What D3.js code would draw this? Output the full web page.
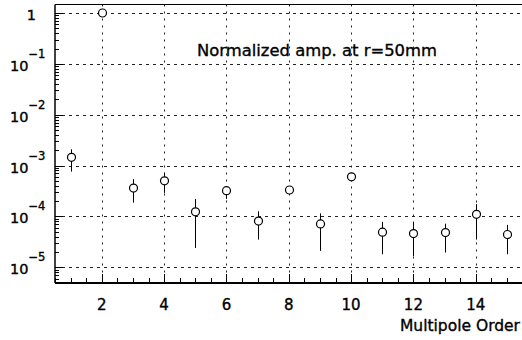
<!DOCTYPE html>
<html><head><meta charset="utf-8">
<script src="https://cdn.jsdelivr.net/npm/d3@7"></script>
<style>
html,body{margin:0;padding:0;background:#fff;}
svg{display:block;}
text{font-family:"DejaVu Sans",Verdana,sans-serif;fill:#000;stroke:#000;stroke-width:0.35px;}
</style></head>
<body><svg id="c" width="522" height="340"></svg>
<script>
const orders   = [1,2,3,4,5,6,7,8,9,10,11,12,13,14,15];
const amps     = [1.45e-3,1.0,3.6e-4,5.0e-4,1.23e-4,3.2e-4,8.1e-5,3.3e-4,7.1e-5,6.0e-4,4.9e-5,4.6e-5,4.8e-5,1.1e-4,4.4e-5];
const ampHigh  = [2.09e-3,1.0,5.4e-4,7.2e-4,2.2e-4,3.6e-4,1.26e-4,3.6e-4,1.15e-4,6.6e-4,7.8e-5,7.6e-5,7.2e-5,1.74e-4,6.8e-5];
const ampLow   = [7.6e-4,1.0,1.86e-4,2.9e-4,2.4e-5,2.2e-4,3.5e-5,3.0e-4,2.1e-5,5.5e-4,1.8e-5,1.66e-5,1.95e-5,3.5e-5,1.8e-5];
const xTicks   = [2,4,6,8,10,12,14];
const yDecades = [0,-1,-2,-3,-4,-5];
const titleText = "Normalized amp. at r=50mm";
const xTitle   = "Multipole Order";

const svg = d3.select("#c");
const L=55, R=522.5, T=4.5, B=283;
const x = d3.scaleLinear().domain([0.5,15.5]).range([L,R]);
const y = d3.scaleLog().domain([Math.pow(10,-5.31),Math.pow(10,0.167)]).range([B,T]);

// grid
const g = svg.append("g");
g.selectAll("line.hg").data(yDecades).enter().append("line")
  .attr("x1",L).attr("x2",R).attr("y1",d=>Math.round(y(Math.pow(10,d)))+0.5).attr("y2",d=>Math.round(y(Math.pow(10,d)))+0.5)
  .attr("stroke","#222").attr("stroke-width",1).attr("stroke-dasharray","3,4");
g.selectAll("line.vg").data(xTicks).enter().append("line")
  .attr("x1",d=>Math.round(x(d))+0.5).attr("x2",d=>Math.round(x(d))+0.5).attr("y1",T).attr("y2",B)
  .attr("stroke","#222").attr("stroke-width",1).attr("stroke-dasharray","2,5");

// frame
svg.append("line").attr("x1",L).attr("x2",R).attr("y1",T).attr("y2",T).attr("stroke","#000").attr("stroke-width",1);
svg.append("line").attr("x1",L).attr("x2",L).attr("y1",T).attr("y2",B).attr("stroke","#000").attr("stroke-width",1.5);
svg.append("line").attr("x1",L).attr("x2",R).attr("y1",B).attr("y2",B).attr("stroke","#000").attr("stroke-width",2);

// y ticks
const yMinor=[];
for (let e=-6;e<=0;e++) for (let m=1;m<=9;m++){const v=m*Math.pow(10,e); if(v>=y.domain()[0]&&v<=y.domain()[1]) yMinor.push({v,major:m===1});}
svg.selectAll("line.yt").data(yMinor).enter().append("line")
  .attr("x1",L).attr("x2",d=>L+(d.major?8:4))
  .attr("y1",d=>Math.round(y(d.v))+0.5).attr("y2",d=>Math.round(y(d.v))+0.5)
  .attr("stroke","#000").attr("stroke-width",1);

// x ticks
const xMinor=d3.range(0.5,15.51,0.5);
svg.selectAll("line.xt").data(xMinor).enter().append("line")
  .attr("x1",d=>Math.round(x(d))+0.5).attr("x2",d=>Math.round(x(d))+0.5)
  .attr("y1",B).attr("y2",d=>B-((d%2===0)?9:5))
  .attr("stroke","#000").attr("stroke-width",1);

// x labels
svg.selectAll("text.xl").data(xTicks).enter().append("text")
  .attr("x",d=>x(d)).attr("y",310).attr("text-anchor","middle")
  .attr("font-size",15).text(d=>d);
svg.append("text").attr("x",520).attr("y",331).attr("text-anchor","end").attr("font-size",15.5).text(xTitle);

// y labels
yDecades.forEach(d=>{
  const yy=y(Math.pow(10,d));
  if(d===0){
    svg.append("text").attr("x",36).attr("y",yy+7).attr("text-anchor","end").attr("font-size",14.5).text("1");
  } else {
    const t=svg.append("text").attr("x",10).attr("y",yy+7).attr("font-size",14.5);
    t.append("tspan").text("10");
    t.append("tspan").attr("dy",-13).attr("font-size",11.5).text("\u2212"+(-d));
  }
});

// title
svg.append("text").attr("x",197).attr("y",56).attr("font-size",16.4).text(titleText);

// error bars + markers
const pts=orders.map((o,i)=>({o,v:amps[i],hi:ampHigh[i],lo:ampLow[i]}));
svg.selectAll("line.eb").data(pts).enter().append("line")
  .attr("x1",d=>Math.round(x(d.o))+0.5).attr("x2",d=>Math.round(x(d.o))+0.5)
  .attr("y1",d=>y(d.hi)).attr("y2",d=>y(d.lo))
  .attr("stroke","#000").attr("stroke-width",1);
svg.selectAll("circle.pt").data(pts).enter().append("circle")
  .attr("cx",d=>Math.round(x(d.o))+0.5).attr("cy",d=>y(d.v)).attr("r",4)
  .attr("fill","#fff").attr("stroke","#000").attr("stroke-width",1.2);
</script></body></html>
